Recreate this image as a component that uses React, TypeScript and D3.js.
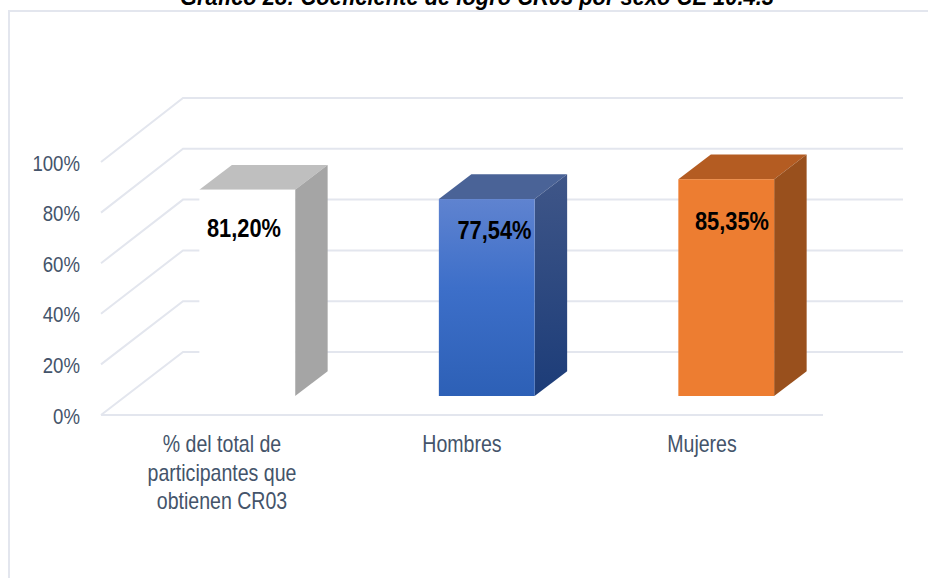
import React from "react";
import * as d3 from "d3";

const categories = ["% del total de|participantes que|obtienen CR03", "Hombres", "Mujeres"];
const values = [81.2, 77.54, 85.35];
const valueLabels = ["81,20%", "77,54%", "85,35%"];
const yTicks = [0, 20, 40, 60, 80, 100];
const titleText = "Gráfico 28: Coeficiente de logro CR03 por sexo CE 10.4.3";

const front = ["#ffffff", "url(#blueFront)", "#ed7d31"];
const topFace = ["#bfbfbf", "#4a6397", "#b45c22"];
const sideFace = ["#a5a5a5", "url(#blueSide)", "#99501d"];
const labelPos: [number, number][] = [[244, 237], [494.5, 238.5], [732, 230]];
const catLabelX = [222, 462, 702];
const labelColor = "#44546a";
const gridColor = "#e3e6ee";

const DX = 32.5;
const DY = -24.7;

export default function App() {
  const yAxisFront = d3.scaleLinear().domain([0, 100]).range([415, 162]);
  const yBack = d3.scaleLinear().domain([0, 100]).range([352, 98]);
  const yBar = d3.scaleLinear().domain([0, 100]).range([396, 142]);
  const x = d3.scaleBand<number>().domain([0, 1, 2]).range([127.5, 846]).paddingInner(0.6).paddingOuter(0.3);

  return (
    <svg width={928} height={578} style={{ position: "absolute", left: 0, top: 0, background: "#fff" }}
      fontFamily="'Liberation Sans', Arial, sans-serif">
      <defs>
        <linearGradient id="blueFront" x1="0" y1="0" x2="0" y2="1">
          <stop offset="0" stopColor="#5f83d0" />
          <stop offset="0.45" stopColor="#3d6fc9" />
          <stop offset="1" stopColor="#2d60b6" />
        </linearGradient>
        <linearGradient id="blueSide" x1="0" y1="0" x2="0" y2="1">
          <stop offset="0" stopColor="#3f5688" />
          <stop offset="1" stopColor="#1c3c78" />
        </linearGradient>
      </defs>

      <path d="M9,578V11H928" fill="none" stroke={gridColor} strokeWidth={2} />

      <text x={0} y={0} textAnchor="middle" fontSize={24} fontWeight={700} fontStyle="italic" fill="#000"
        transform="translate(477,5) scale(0.913,1)">{titleText}</text>

      {yTicks.map((t) => (
        <g key={t}>
          <path
            d={`M101,${yAxisFront(t)}L183,${yBack(t)}H903`}
            fill="none" stroke={gridColor} strokeWidth={2}
          />
          <text x={0} y={0} textAnchor="end" fontSize={23} fill={labelColor}
            transform={`translate(80,${yAxisFront(t) + 8.5}) scale(0.81,1)`}>{t}%</text>
        </g>
      ))}
      <line x1={101} x2={823} y1={415} y2={415} stroke={gridColor} strokeWidth={2} />

      {values.map((v, i) => {
        const x0 = x(i)!;
        const x1 = x0 + x.bandwidth();
        const yt = yBar(v);
        const yb = yBar(0);
        return (
          <g key={i}>
            <path d={`M${x0},${yt}L${x0 + DX},${yt + DY}H${x1 + DX}L${x1},${yt}Z`} fill={topFace[i]} />
            <path d={`M${x1},${yt}L${x1 + DX},${yt + DY}V${yb + DY}L${x1},${yb}Z`} fill={sideFace[i]} />
            <rect x={x0} y={yt} width={x.bandwidth()} height={yb - yt} fill={front[i]} />
          </g>
        );
      })}

      {valueLabels.map((l, i) => (
        <text key={l} x={0} y={0} textAnchor="middle" fontSize={26} fontWeight={700} fill="#000"
          transform={`translate(${labelPos[i][0]},${labelPos[i][1]}) scale(0.84,1)`}>{l}</text>
      ))}

      {categories.map((c, i) =>
        c.split("|").map((line, j) => (
          <text key={line} x={0} y={0} textAnchor="middle" fontSize={23} fill={labelColor}
            transform={`translate(${catLabelX[i]},${452 + j * 28.5}) scale(0.85,1)`}>{line}</text>
        ))
      )}
    </svg>
  );
}
